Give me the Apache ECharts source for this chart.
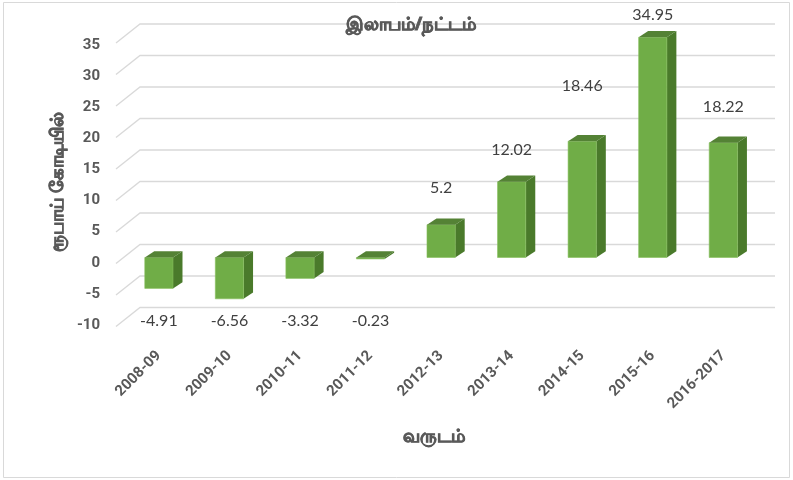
<!DOCTYPE html>
<html><head><meta charset="utf-8">
<script src="https://cdn.jsdelivr.net/npm/echarts@6/dist/echarts.min.js"></script>
<style>html,body{margin:0;padding:0;background:#fff}#c{width:793px;height:480px}</style>
</head><body><div id="c"></div>
<script>
// ---- data ----
const categories = ['2008-09','2009-10','2010-11','2011-12','2012-13','2013-14','2014-15','2015-16','2016-2017'];
const values = [-4.91, -6.56, -3.32, -0.23, 5.2, 12.02, 18.46, 34.95, 18.22];
const yTicks = [-10, -5, 0, 5, 10, 15, 20, 25, 30, 35];
const titleText = 'இலாபம்/நட்டம்';
const yTitleText = 'ரூபாய் கோடியில்';
const xTitleText = 'வருடம்';

// ---- style (not data) ----
const labelLift = [0, 0, 0, 0, 37, 32, 55, 22, 36];
const FONT = 'Lato, "Noto Sans", "DejaVu Sans", sans-serif';
const BFONT = 'Roboto, "Noto Sans", "DejaVu Sans", sans-serif';
const TFONT = '"Noto Sans", "DejaVu Sans", sans-serif';

const chart = echarts.init(document.getElementById('c'), null, {renderer: 'canvas'});

function gridRender(params, api) {
  const cs = params.coordSys;
  const y = api.coord([0, api.value(1)])[1];
  const gx = cs.x, gw = cs.width;
  return {
    type: 'polyline',
    shape: {points: [[gx - 7.6, y + 6], [gx + 16.4, y - 13], [gx + gw + 16.4, y - 13]]},
    style: {stroke: '#d9d9d9', lineWidth: 1.3, fill: null},
    silent: true
  };
}

function barRender(params, api) {
  const i = api.value(0), v = api.value(1);
  const p0 = api.coord([i, 0]);
  const pv = api.coord([i, v]);
  const cx = p0[0];
  const bw = api.size([1, 0])[0] * 0.4;
  const dx = 9.5, dy = 6.3;
  const x0 = cx - bw / 2, x1 = cx + bw / 2;
  const yt = Math.min(p0[1], pv[1]), yb = Math.max(p0[1], pv[1]);
  const labelY = v >= 0 ? pv[1] - labelLift[i] : api.coord([i, -10])[1];
  return {
    type: 'group',
    children: [
      {type: 'polygon', shape: {points: [[x1, yt], [x1 + dx, yt - dy], [x1 + dx, yb - dy], [x1, yb]]},
        style: {fill: '#4a7a2b'}},
      {type: 'rect', shape: {x: x0, y: yt, width: bw, height: Math.max(yb - yt, 0.5)},
        style: {fill: '#70ad47', stroke: '#86c05c', lineWidth: 0.6}},
      {type: 'polygon', shape: {points: [[x0, yt], [x1, yt], [x1 + dx, yt - dy], [x0 + dx, yt - dy]]},
        style: {fill: '#548235'}},
      {type: 'text', x: cx, y: labelY,
        style: {text: String(v), fill: '#404040', font: '16px ' + FONT, align: 'center', verticalAlign: 'middle'}}
    ]
  };
}

const option = {
  animation: false,
  backgroundColor: '#fff',
  title: {
    text: titleText, left: 406, top: 11, textAlign: 'center',
    textStyle: {fontFamily: TFONT, fontSize: 18, fontWeight: 'bold', color: '#595959',
      textBorderColor: '#595959', textBorderWidth: 0.8}
  },
  grid: [
    {left: 116, top: 45, width: 635, height: 280},
    {left: 123.6, top: 37, width: 635, height: 283.5}
  ],
  xAxis: [
    {gridIndex: 0, type: 'category', data: categories, show: false},
    {gridIndex: 1, type: 'category', data: categories,
      axisLine: {show: false}, axisTick: {show: false}, splitLine: {show: false},
      axisLabel: {rotate: 45, margin: 33, interval: 0, color: '#595959', fontWeight: 'bold', fontSize: 15, fontFamily: BFONT}}
  ],
  yAxis: [
    {gridIndex: 0, type: 'value', min: -10, max: 35, interval: 5,
      axisLine: {show: false}, axisTick: {show: false}, splitLine: {show: false},
      axisLabel: {margin: 16, color: '#595959', fontWeight: 'bold', fontSize: 15, fontFamily: BFONT}},
    {gridIndex: 1, type: 'value', min: -10, max: 35, interval: 5, show: false, splitLine: {show: false}}
  ],
  graphic: [
    {type: 'rect', shape: {x: 3.5, y: 2.5, width: 786, height: 475}, style: {fill: null, stroke: '#d9d9d9', lineWidth: 1}, z: 0, silent: true},
    {type: 'text', x: 58, y: 182, rotation: Math.PI / 2, style: {text: yTitleText, fill: '#595959', stroke: '#595959', lineWidth: 0.8, font: 'bold 18px ' + TFONT, align: 'center', verticalAlign: 'middle'}},
    {type: 'text', x: 434, y: 437, style: {text: xTitleText, fill: '#595959', stroke: '#595959', lineWidth: 0.8, font: 'bold 18px ' + TFONT, align: 'center', verticalAlign: 'middle'}}
  ],
  series: [
    {type: 'custom', xAxisIndex: 1, yAxisIndex: 1, renderItem: gridRender,
      data: yTicks.map(v => [0, v]), z: 1, silent: true},
    {type: 'custom', xAxisIndex: 1, yAxisIndex: 1, renderItem: barRender,
      data: values.map((v, i) => [i, v]), z: 3}
  ]
};
chart.setOption(option);
</script></body></html>
